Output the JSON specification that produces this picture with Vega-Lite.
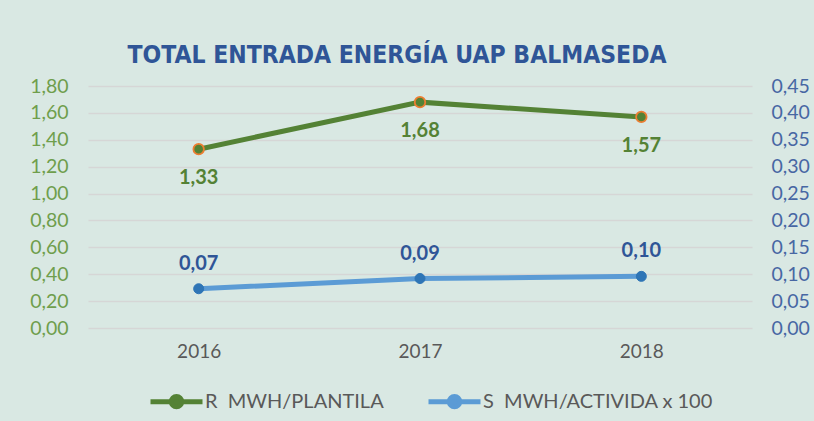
{
  "$schema": "https://vega.github.io/schema/vega-lite/v6.json",
  "width": 664,
  "height": 242,
  "autosize": {"type": "none"},
  "padding": {"left": 88, "top": 86, "right": 62, "bottom": 93},
  "background": "#d9e8e3",
  "config": {
    "locale": {"number": {"decimal": ",", "thousands": ".", "grouping": [3], "currency": ["", " €"]}},
    "view": {"stroke": null},
    "font": "Lato"
  },
  "title": {
    "text": "TOTAL ENTRADA ENERGÍA UAP BALMASEDA",
    "font": "DejaVu Sans Condensed",
    "fontSize": 24.5,
    "fontWeight": "bold",
    "color": "#2f5597",
    "anchor": "middle",
    "dx": -23,
    "offset": 8
  },
  "data": {
    "values": [
      {"year": "2016", "r": 1.33, "s": 0.073},
      {"year": "2017", "r": 1.68, "s": 0.092},
      {"year": "2018", "r": 1.57, "s": 0.096}
    ]
  },
  "encoding": {
    "x": {
      "field": "year",
      "type": "ordinal",
      "scale": {"type": "point", "padding": 0.5},
      "axis": {"title": null, "labelAngle": 0, "domain": false, "ticks": false, "grid": false, "labelColor": "#595959", "labelFontSize": 19, "labelPadding": 14}
    }
  },
  "layer": [
    {
      "encoding": {
        "y": {
          "field": "r",
          "type": "quantitative",
          "scale": {"domain": [0, 1.8]},
          "axis": {"orient": "left", "title": null, "values": [0, 0.2, 0.4, 0.6, 0.8, 1.0, 1.2, 1.4, 1.6, 1.8], "format": ".2f", "labelColor": "#6f9e4c", "labelFontSize": 19.5, "labelPadding": 20, "domain": false, "ticks": false, "grid": true, "gridColor": "#d6d6d6", "gridWidth": 1.5}
        }
      },
      "layer": [
        {
          "mark": {"type": "line", "strokeWidth": 5},
          "encoding": {
            "color": {
              "datum": "R\u00a0\u00a0MWH/PLANTILA",
              "type": "nominal",
              "scale": {"domain": ["R\u00a0\u00a0MWH/PLANTILA", "S\u00a0\u00a0MWH/ACTIVIDA x 100"], "range": ["#548235", "#5b9bd5"]},
              "legend": {
                "title": null,
                "orient": "none",
                "direction": "horizontal",
                "legendX": 60,
                "legendY": 287,
                "symbolType": "M-1,0H-0.2A0.2,0.2 0 1 1 0.2,0A0.2,0.2 0 1 1 -0.2,0M0.2,0H1",
                "symbolSize": 2704,
                "symbolStrokeWidth": 5,
                "labelFontSize": 20,
                "labelColor": "#595959",
                "labelOffset": 0,
                "labelLimit": 0,
                "columnPadding": 34,
                "encode": {"symbols": {"update": {"fill": {"scale": "color", "field": "value"}}}}
              }
            }
          }
        },
        {
          "mark": {"type": "point", "filled": true, "size": 110, "fill": "#548235", "stroke": "#ed7d31", "strokeWidth": 1.8, "opacity": 1}
        },
        {
          "mark": {"type": "text", "dy": 29, "fontSize": 20, "fontWeight": "bold", "color": "#548235"},
          "encoding": {"text": {"field": "r", "type": "quantitative", "format": ".2f"}}
        }
      ]
    },
    {
      "encoding": {
        "y": {
          "field": "s",
          "type": "quantitative",
          "scale": {"domain": [0, 0.45]},
          "axis": {"orient": "right", "title": null, "values": [0, 0.05, 0.1, 0.15, 0.2, 0.25, 0.3, 0.35, 0.4, 0.45], "format": ".2f", "labelColor": "#4767a3", "labelFontSize": 19.5, "labelPadding": 19, "domain": false, "ticks": false, "grid": false}
        }
      },
      "layer": [
        {
          "mark": {"type": "line", "strokeWidth": 5},
          "encoding": {"color": {"datum": "S\u00a0\u00a0MWH/ACTIVIDA x 100", "type": "nominal"}}
        },
        {
          "mark": {"type": "point", "filled": true, "size": 100, "fill": "#2e75b6", "stroke": "#2e75b6", "strokeWidth": 1, "opacity": 1}
        },
        {
          "mark": {"type": "text", "dy": -25, "fontSize": 20, "fontWeight": "bold", "color": "#2f5597"},
          "encoding": {"text": {"field": "s", "type": "quantitative", "format": ".2f"}}
        }
      ]
    }
  ],
  "resolve": {"scale": {"y": "independent"}}
}
